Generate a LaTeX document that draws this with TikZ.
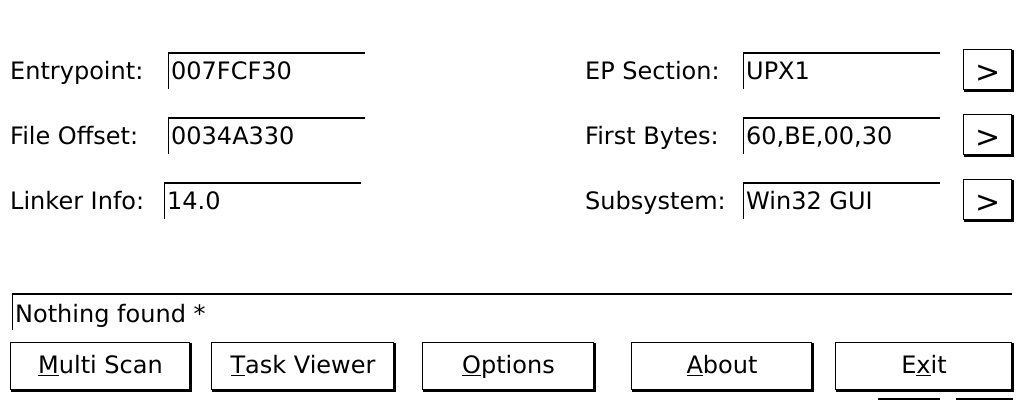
\documentclass[tikz,border=0pt]{standalone}
\usepackage{fontspec}
\setmainfont{DejaVu Sans}

\begin{document}
\begin{tikzpicture}[
			x=1pt, y=-1pt,
			every node/.style={font=\fontsize{24}{28}\selectfont, inner sep=0pt},
			caption/.style={anchor=base west},
			entry/.style={anchor=base west},
			pushbtn/.style={minimum width=#1, minimum height=47pt, text height=19pt, text depth=5pt},
			morebtn/.style={minimum width=48pt, minimum height=40pt, text height=25pt, text depth=0pt, font=\fontsize{30}{32}\selectfont},
			rim/.style={line width=2pt},
			lit/.style={line width=1pt},
			shade/.style={line width=3pt}
	]
	\useasboundingbox (0,0) rectangle (1026,401);

% >> header fields, left
	\foreach \name/\txt/\val/\x/\y in {ep/Entrypoint:/007FCF30/168/80, off/File Offset:/0034A330/168/145, lnk/Linker Info:/14.0/164/210} {
		\node[caption] (\name-lbl) at (10,\y) {\txt};
		\node[entry] (\name-val) at (\x+3,\y) {\val};
		\coordinate (\name-a) at (\x,\y-27);
		\coordinate (\name-b) at (\x+197,\y-27);
		\coordinate (\name-c) at (\x,\y+9);
		\draw[rim] (\name-a) -- (\name-b);
		\draw[lit] (\name-a) -- (\name-c);
	}

% >> header fields, right
	\foreach \name/\txt/\val/\y in {sec/EP Section:/UPX1/80, fb/First Bytes:/{60,BE,00,30}/145, sub/Subsystem:/Win32 GUI/210} {
		\node[caption] (\name-lbl) at (585,\y) {\txt};
		\node[entry] (\name-val) at (746,\y) {\val};
		\coordinate (\name-a) at (743,\y-27);
		\coordinate (\name-b) at (940,\y-27);
		\coordinate (\name-c) at (743,\y+9);
		\draw[rim] (\name-a) -- (\name-b);
		\draw[lit] (\name-a) -- (\name-c);
		\node[morebtn] (\name-btn) at (988,\y-10) {>};
		\draw[lit] (\name-btn.south west) |- (\name-btn.north east);
		\draw[shade] (\name-btn.north east) |- (\name-btn.south west);
	}

% >> status line
	\coordinate (st-a) at (12,294);
	\coordinate (st-b) at (1012,294);
	\coordinate (st-c) at (12,330);
	\draw[rim] (st-a) -- (st-b);
	\draw[lit] (st-a) -- (st-c);
	\node[caption] (status) at (15,322) {Nothing found *};

% >> buttons
	\node[pushbtn=179pt] (ms) at (100.5,366.5) {\underline{M}ulti Scan};
	\node[pushbtn=182pt] (tv) at (303,366.5) {\underline{T}ask Viewer};
	\node[pushbtn=171pt] (opt) at (508.5,366.5) {\underline{O}ptions};
	\node[pushbtn=180pt] (abt) at (722,366.5) {\underline{A}bout};
	\node[pushbtn=176pt] (ex) at (924,366.5) {E\underline{x}it};
	\foreach \b in {ms,tv,opt,abt,ex} {
		\draw[lit] (\b.south west) |- (\b.north east);
		\draw[shade] (\b.north east) |- (\b.south west);
	}

% >> cut off at the bottom
	\coordinate (p1) at (878,399);
	\coordinate (p2) at (940,399);
	\coordinate (p3) at (956,399);
	\coordinate (p4) at (1013,399);
	\draw[rim] (p1) -- (p2);
	\draw[rim] (p3) -- (p4);
\end{tikzpicture}
\end{document}
